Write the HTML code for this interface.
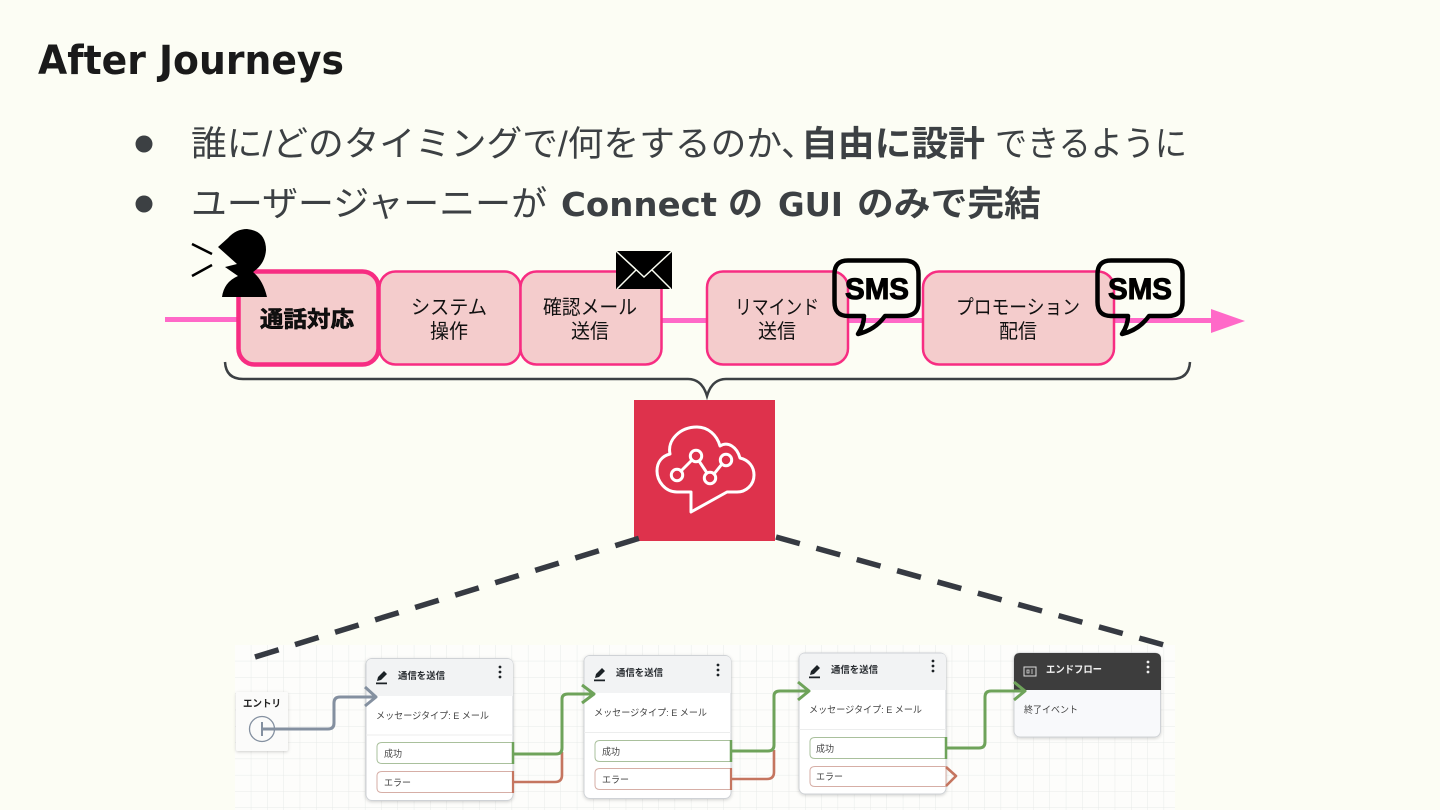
<!DOCTYPE html>
<html lang="ja"><head><meta charset="utf-8"><title>After Journeys</title>
<style>
html,body{margin:0;padding:0;background:#fcfdf4}
svg{display:block}
text{font-family:"Liberation Sans","Noto Sans CJK JP",sans-serif}
.dj{font-family:"DejaVu Sans","Liberation Sans",sans-serif}
</style></head><body>
<svg width="1440" height="810" viewBox="0 0 1440 810" xmlns="http://www.w3.org/2000/svg">
<defs>
<pattern id="g" x="235" y="645" width="16.3" height="16.3" patternUnits="userSpaceOnUse"><path d="M16.3 0V16.3M0 16.3H16.3" fill="none" stroke="#e8eae8" stroke-width="1"/></pattern>
<filter id="soft" x="-2%" y="-5%" width="104%" height="110%"><feGaussianBlur stdDeviation="0.35"/></filter>
<filter id="sh" x="-10%" y="-10%" width="120%" height="120%"><feDropShadow dx="0" dy="1" stdDeviation="1.500" flood-color="#000" flood-opacity=".18"/></filter>
</defs>
<rect width="1440" height="810" fill="#fcfdf4"/>
<text class="dj" x="38" y="74" font-size="40" font-weight="700" fill="#1a1a1a" textLength="306" lengthAdjust="spacingAndGlyphs">After Journeys</text>

<circle cx="144" cy="144" r="8.500" fill="#3c4043"/>
<circle cx="144" cy="204" r="8.500" fill="#3c4043"/>
<text x="191" y="156" font-size="35" fill="#3c4043" textLength="591" lengthAdjust="spacingAndGlyphs">誰に/どのタイミングで/何をするのか</text>
<text x="781" y="156" font-size="35" fill="#3c4043">、</text>
<text x="801" y="156" font-size="35" font-weight="700" fill="#3c4043" textLength="184" lengthAdjust="spacingAndGlyphs">自由に設計</text>
<text x="995" y="156" font-size="35" fill="#3c4043" textLength="192" lengthAdjust="spacingAndGlyphs">できるように</text>
<text x="191" y="216" font-size="35" fill="#3c4043" textLength="356" lengthAdjust="spacingAndGlyphs">ユーザージャーニーが</text>
<text class="dj" x="561" y="216" font-size="33" font-weight="700" fill="#3c4043" textLength="156" lengthAdjust="spacingAndGlyphs">Connect</text>
<text x="728" y="216" font-size="35" font-weight="700" fill="#3c4043">の</text>
<text class="dj" x="778" y="216" font-size="33" font-weight="700" fill="#3c4043" textLength="65" lengthAdjust="spacingAndGlyphs">GUI</text>
<text x="857" y="216" font-size="35" font-weight="700" fill="#3c4043" textLength="184" lengthAdjust="spacingAndGlyphs">のみで完結</text>

<!-- timeline -->
<rect x="165" y="317" width="75" height="5" fill="#ff69c8"/>
<rect x="660" y="318" width="50" height="5" fill="#ff69c8"/>
<rect x="845" y="318" width="80" height="5" fill="#ff69c8"/>
<rect x="1112" y="318" width="102" height="5" fill="#ff69c8"/>
<path d="M1211 309L1245 321L1211 333Z" fill="#ff69c8"/>

<rect x="238.500" y="271.500" width="140" height="93" rx="16" fill="#f4cccc" stroke="#f72d82" stroke-width="4.500"/>
<rect x="379.500" y="271.500" width="141" height="93" rx="16" fill="#f4cccc" stroke="#f72d82" stroke-width="2.500"/>
<rect x="520.500" y="271.500" width="141" height="93" rx="16" fill="#f4cccc" stroke="#f72d82" stroke-width="2.500"/>
<rect x="707" y="271.500" width="141" height="93" rx="16" fill="#f4cccc" stroke="#f72d82" stroke-width="2.500"/>
<rect x="923" y="271.500" width="191" height="93" rx="16" fill="#f4cccc" stroke="#f72d82" stroke-width="2.500"/>

<g font-size="20" fill="#111" text-anchor="middle">
<text x="307" y="327" font-weight="700" font-size="22" textLength="94" lengthAdjust="spacingAndGlyphs" stroke="#000" stroke-width=".6">通話対応</text>
<text x="449" y="314" textLength="76" lengthAdjust="spacingAndGlyphs">システム</text>
<text x="449" y="338" textLength="38" lengthAdjust="spacingAndGlyphs">操作</text>
<text x="590" y="314" textLength="94" lengthAdjust="spacingAndGlyphs">確認メール</text>
<text x="590" y="338" textLength="38" lengthAdjust="spacingAndGlyphs">送信</text>
<text x="777" y="314" textLength="84" lengthAdjust="spacingAndGlyphs">リマインド</text>
<text x="777" y="338" textLength="38" lengthAdjust="spacingAndGlyphs">送信</text>
<text x="1018" y="314" textLength="124" lengthAdjust="spacingAndGlyphs">プロモーション</text>
<text x="1018" y="338" textLength="38" lengthAdjust="spacingAndGlyphs">配信</text>
</g>

<!-- speaker -->
<path d="M218 247L228 238Q236 229 247 229Q266 231 266 250Q265 264 253 272Q263 280 267 297H222Q224 282 238 276L225 267L237 264Z" fill="#000"/>
<path d="M192 244L212 254M192 276L212 265" stroke="#000" stroke-width="2.500" fill="none"/>

<!-- mail -->
<rect x="616" y="251" width="56" height="38" fill="#000"/>
<path d="M616 251L644 277L672 251M617 289L636 270M671 289L652 270" stroke="#fbfef3" stroke-width="1.500" fill="none"/>

<!-- SMS -->
<path d="M848 260.500H904Q918.500 260.500 918.500 274V302Q918.500 316 904 316H885Q875 330 858 334Q864 325 864 316H848Q834.500 316 834.500 302V274Q834.500 260.500 848 260.500Z" fill="none" stroke="#000" stroke-width="4.500" stroke-linejoin="round"/>
<text x="877" y="299" font-size="30" font-weight="700" fill="#000" text-anchor="middle" textLength="64" lengthAdjust="spacingAndGlyphs" stroke="#000" stroke-width="1">SMS</text>
<path d="M1111 260.500H1168Q1182.500 260.500 1182.500 274V302Q1182.500 316 1168 316H1149Q1139 330 1122 334Q1128 325 1128 316H1111Q1097.500 316 1097.500 302V274Q1097.500 260.500 1111 260.500Z" fill="none" stroke="#000" stroke-width="4.500" stroke-linejoin="round"/>
<text x="1140" y="299" font-size="30" font-weight="700" fill="#000" text-anchor="middle" textLength="64" lengthAdjust="spacingAndGlyphs" stroke="#000" stroke-width="1">SMS</text>

<!-- brace -->
<path d="M225 362Q226 379 243 379H688Q702 379 707 396Q712 379 726 379H1172Q1189 379 1190 362" fill="none" stroke="#3c4043" stroke-width="2.500"/>

<!-- connect icon -->
<rect x="634" y="400" width="141" height="141" fill="#de324c"/>
<g fill="none" stroke="#fff" stroke-width="3" stroke-linejoin="round" stroke-linecap="round">
<path d="M691 492H677C665 492 657 481 657 471C657 462 662 456 670 454C667 440 680 427 697 427C708 427 717 435 720 446C728 441 737 447 740 458C749 460 754 467 754 475C754 485 746 492 737 492H727L691 512Z"/>
<circle cx="677" cy="475" r="5.700"/><circle cx="696" cy="456" r="5.700"/><circle cx="710" cy="478" r="5.700"/><circle cx="726" cy="460" r="5.700"/>
<path d="M681 471L692 460M699 461L707 473M714 474L722 464"/>
</g>

<g filter="url(#soft)">
<!-- flow panel -->
<rect x="235" y="645" width="940" height="165" fill="#fdfdfb"/>
<rect x="235" y="645" width="940" height="165" fill="url(#g)"/>

<!-- entry -->
<rect x="236" y="692" width="52" height="59" rx="2" fill="#fbfbfa" filter="url(#sh)"/>
<text x="262" y="707" font-size="10" font-weight="700" fill="#222" text-anchor="middle" textLength="38" lengthAdjust="spacingAndGlyphs">エントリ</text>
<circle cx="262" cy="729" r="12.500" fill="none" stroke="#8490a0" stroke-width="1.300"/>
<path d="M262 722V736" stroke="#8490a0" stroke-width="2" fill="none"/>

<!-- cards -->
<g fill="#fff" stroke="#cfd2d6" filter="url(#sh)">
<rect x="366" y="658.500" width="147" height="142" rx="6"/>
<rect x="584" y="655.500" width="147" height="143" rx="6"/>
<rect x="799" y="653" width="147" height="141" rx="6"/>
</g>
<g fill="#f2f3f4">
<path d="M366.500 696V665Q366.500 659 372 659H507Q513 659 513 665V696Z"/>
<path d="M584.500 693V662Q584.500 656 590 656H725Q731 656 731 662V693Z"/>
<path d="M799.500 690V659Q799.500 653.500 805 653.500H940Q946 653.500 946 659V690Z"/>
</g>
<path d="M366 735H513M584 732.500H731M799 729.500H946" stroke="#eceded"/>

<g fill="#fff" stroke="#a9c09c" stroke-width="1">
<path d="M513 742.500H382Q377 742.500 377 747V759Q377 763.500 382 763.500H513Z"/>
<path d="M731 740.500H600Q595 740.500 595 745V757Q595 761.500 600 761.500H731Z"/>
<path d="M946 737.500H815Q810 737.500 810 742V754Q810 758.500 815 758.500H946Z"/>
</g>
<g fill="#fff" stroke="#d6aea6" stroke-width="1">
<path d="M513 771.500H382Q377 771.500 377 776V788Q377 792.500 382 792.500H513Z"/>
<path d="M731 768.500H600Q595 768.500 595 773V785Q595 789.500 600 789.500H731Z"/>
<path d="M946 766.500H815Q810 766.500 810 771V782Q810 786.500 815 786.500H946Z"/>
</g>

<!-- pencil icons -->
<g fill="#1f2328">
<path d="M377 681l1-4 6-6 3 3-6 6zM376 682.500h11v1.800h-11z"/>
<path d="M595 678l1-4 6-6 3 3-6 6zM594 679.500h11v1.800h-11z"/>
<path d="M810 675l1-4 6-6 3 3-6 6zM809 676.500h11v1.800h-11z"/>
<circle cx="500" cy="667" r="1.400"/><circle cx="500" cy="672" r="1.400"/><circle cx="500" cy="677" r="1.400"/>
<circle cx="718" cy="665" r="1.400"/><circle cx="718" cy="670" r="1.400"/><circle cx="718" cy="675" r="1.400"/>
<circle cx="933" cy="661" r="1.400"/><circle cx="933" cy="666" r="1.400"/><circle cx="933" cy="671" r="1.400"/>
</g>

<g font-size="9.500" font-weight="700" fill="#2a2e33">
<text x="398" y="679" textLength="47" lengthAdjust="spacingAndGlyphs">通信を送信</text>
<text x="616" y="676" textLength="47" lengthAdjust="spacingAndGlyphs">通信を送信</text>
<text x="831" y="673" textLength="47" lengthAdjust="spacingAndGlyphs">通信を送信</text>
</g>
<g font-size="9.500" fill="#444">
<text x="376" y="719" textLength="113" lengthAdjust="spacingAndGlyphs">メッセージタイプ: E メール</text>
<text x="594" y="716" textLength="113" lengthAdjust="spacingAndGlyphs">メッセージタイプ: E メール</text>
<text x="809" y="713" textLength="113" lengthAdjust="spacingAndGlyphs">メッセージタイプ: E メール</text>
<text x="384" y="757" textLength="18" lengthAdjust="spacingAndGlyphs">成功</text>
<text x="384" y="786" textLength="27" lengthAdjust="spacingAndGlyphs">エラー</text>
<text x="602" y="755" textLength="18" lengthAdjust="spacingAndGlyphs">成功</text>
<text x="602" y="783" textLength="27" lengthAdjust="spacingAndGlyphs">エラー</text>
<text x="816" y="752" textLength="18" lengthAdjust="spacingAndGlyphs">成功</text>
<text x="816" y="780" textLength="27" lengthAdjust="spacingAndGlyphs">エラー</text>
</g>

<!-- end card -->
<rect x="1014" y="653" width="146.500" height="84" rx="6" fill="#f8f9fb" stroke="#cfd2d6" filter="url(#sh)"/>
<path d="M1014 690V659Q1014 653 1020 653H1155Q1161 653 1161 659V690Z" fill="#3d3d3d"/>
<rect x="1024" y="667" width="12" height="9" fill="none" stroke="#ddd" stroke-width="1"/>
<path d="M1027 670h2v3h-2zM1032 669v5" stroke="#ddd" stroke-width=".8" fill="none"/>
<text x="1046" y="673" font-size="10" font-weight="700" fill="#f2f2f2" textLength="56" lengthAdjust="spacingAndGlyphs">エンドフロー</text>
<g fill="#eee"><circle cx="1148" cy="662" r="1.400"/><circle cx="1148" cy="667" r="1.400"/><circle cx="1148" cy="672" r="1.400"/></g>
<text x="1024" y="713" font-size="9.500" fill="#444" textLength="54" lengthAdjust="spacingAndGlyphs">終了イベント</text>

<!-- connectors -->
<g fill="none" stroke-linejoin="round" stroke-linecap="butt">
<path d="M262 729H328Q334 729 334 723V703Q334 697 340 697H375M365 687L376 697L365 706" stroke="#8490a0" stroke-width="3"/>
<path d="M513 782H555Q562 782 562 775V752" stroke="#c5745f" stroke-width="2.600"/>
<path d="M513 754H556Q562 754 562 748V699Q562 694 568 694H593M582 685L594 694L582 703" stroke="#6ea35a" stroke-width="3"/>
<path d="M731 779H767Q774 779 774 772V750" stroke="#c5745f" stroke-width="2.600"/>
<path d="M731 751H768Q774 751 774 745V696Q774 691 780 691H808M798 682L809 691L798 700" stroke="#6ea35a" stroke-width="3"/>
<path d="M946 748H979Q985 748 985 742V697Q985 691 991 691H1023M1014 682L1025 691L1014 700" stroke="#6ea35a" stroke-width="3"/>
<path d="M946 767L956 776L946 786" stroke="#c5745f" stroke-width="2.600"/>
</g>
<path d="M513 742V764M731 740V762M946 737V759" stroke="#6ea35a" stroke-width="2.500" fill="none"/>
<path d="M513 771V793M731 768V790" stroke="#c5745f" stroke-width="2.200" fill="none"/>
</g>

<!-- dashed -->
<path d="M255 657L640 538" stroke="#363a42" stroke-width="5.500" stroke-dasharray="24.700 17.200" fill="none"/>
<path d="M776 537L1164 645" stroke="#363a42" stroke-width="5.500" stroke-dasharray="24.700 17.200" fill="none"/>
</svg>
</body></html>
